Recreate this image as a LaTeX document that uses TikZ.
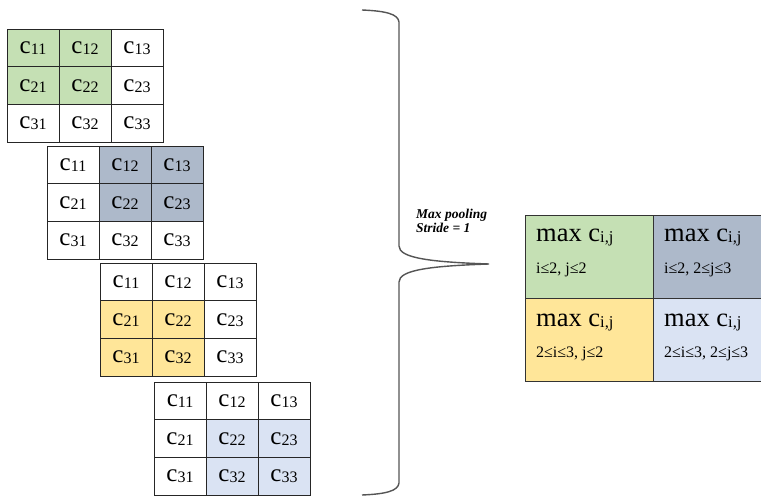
\documentclass[tikz,border=0pt]{standalone}
\usepackage{fontspec}
\setmainfont{Liberation Serif}
\definecolor{cgreen}{HTML}{C5E0B4}
\definecolor{cslate}{HTML}{ADB9CA}
\definecolor{cgold}{HTML}{FFE699}
\definecolor{cpale}{HTML}{DAE3F3}
\definecolor{bracegray}{HTML}{555555}
\newcommand{\cval}[1]{{\fontsize{25}{25}\selectfont c\raisebox{-1pt}{\fontsize{16}{16}\selectfont #1}}}
\newcommand{\maxc}{{\fontsize{26.5}{26.5}\selectfont max c\raisebox{-1.5pt}{\fontsize{16.5}{16.5}\selectfont i,j}}}
\tikzset{
  cell/.style={draw=black!85, line width=0.8pt, minimum width=52pt, minimum height=37.8pt, inner sep=0pt, anchor=center},
  outcell/.style={draw=black!80, line width=0.9pt, minimum width=128pt, minimum height=83pt, inner sep=0pt, anchor=north west},
  label/.style={anchor=base west, inner sep=0pt},
  note/.style={font=\fontsize{16}{16}\selectfont, anchor=base west, inner sep=0pt},
}
\begin{document}
\begin{tikzpicture}[x=1pt, y=-1pt]
\useasboundingbox[fill=white] (0,0) rectangle (761,500);
% four 3x3 windows; highlighted cells are the pooling region of each
\foreach \g/\ox/\oy/\col/\ra/\rb/\ca/\cb in {
    1/7/29/cgreen/1/2/1/2,
    2/47/146/cslate/1/2/2/3,
    3/100/263/cgold/2/3/1/2,
    4/154/382/cpale/2/3/2/3} {
  \foreach \r in {1,2,3} {
    \foreach \c in {1,2,3} {
      \pgfmathtruncatemacro{\hit}{(\r>=\ra)&&(\r<=\rb)&&(\c>=\ca)&&(\c<=\cb)}
      \ifnum\hit=1 \def\fc{\col}\else\def\fc{white}\fi
      \node[cell, fill=\fc] (g\g-\r\c) at ({\ox+52*(\c-0.5)},{\oy+37.8*(\r-0.5)}) {\cval{\r\c}};
    }
  }
}
% curly brace gathering the four windows
\draw[bracegray, line width=1.4pt]
  (362,10) .. controls (386,11) and (398,14) .. (399,22)
  -- (399,246) .. controls (399,258) and (430,262) .. (489,264)
  .. controls (430,266) and (399,270) .. (399,282)
  -- (399,483) .. controls (398,491) and (386,494) .. (362,495);
\node[anchor=base west, inner sep=0pt, align=left,
      font=\fontsize{13.5}{14.5}\selectfont\bfseries\itshape] (op) at (416,233)
  {Max pooling\\Stride = 1};
% pooled output
\node[outcell, fill=cgreen] (o11) at (525,215) {};
\node[outcell, fill=cslate] (o12) at (653,215) {};
\node[outcell, fill=cgold]  (o21) at (525,298) {};
\node[outcell, fill=cpale]  (o22) at (653,298) {};
\node[label] (m11) at (536,241) {\maxc};
\node[label] (m12) at (664,241) {\maxc};
\node[label] (m21) at (536,326) {\maxc};
\node[label] (m22) at (664,326) {\maxc};
\node[note] (n11) at (536,273) {i≤2, j≤2};
\node[note] (n12) at (664,273) {i≤2, 2≤j≤3};
\node[note] (n21) at (536,357) {2≤i≤3, j≤2};
\node[note] (n22) at (664,357) {2≤i≤3, 2≤j≤3};
\end{tikzpicture}
\end{document}
